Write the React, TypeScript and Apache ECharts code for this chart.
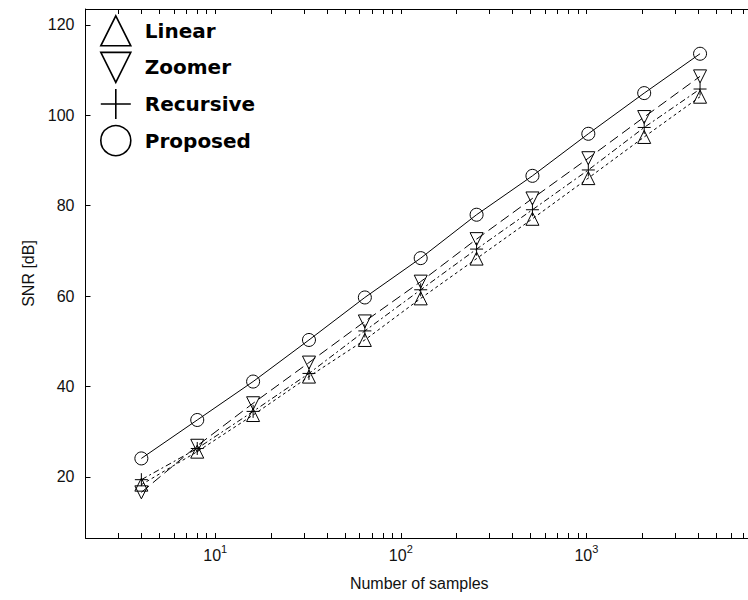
import React, { useEffect, useRef } from 'react';
import * as echarts from 'echarts';

const samples = [4, 8, 16, 32, 64, 128, 256, 512, 1024, 2048, 4096];
const linear = [18.3, 25.6, 33.7, 42.2, 50.3, 59.5, 68.3, 77.1, 86.1, 95.2, 104.1];
const zoomer = [16.6, 26.9, 36.3, 45.3, 54.4, 63.2, 72.6, 81.6, 90.5, 99.6, 108.6];
const recursive = [19.4, 26.3, 34.5, 42.9, 52.3, 61.4, 70.4, 79.1, 87.9, 97.3, 105.8];
const proposed = [24.1, 32.6, 41.1, 50.3, 59.7, 68.4, 78.0, 86.6, 95.9, 104.9, 113.6];

const yTicks = [20, 40, 60, 80, 100, 120];
const xMajor = [10, 100, 1000];
const xTicks = [2, 3, 4, 5, 6, 7, 8, 9, 10, 20, 30, 40, 50, 60, 70, 80, 90, 100, 200, 300, 400, 500, 600, 700, 800, 900, 1000, 2000, 3000, 4000, 5000, 6000, 7000];

const X_MIN = 2;
const X_MAX = 7900;
const Y_MIN = 6.5;
const Y_MAX = 123.5;

const DOWN = 'path://M0,0L2,0L1,2Z';
const PLUS = 'path://M1,0L1,2M0,1L2,1';

const FONT = 'Liberation Sans, Arial, Helvetica, sans-serif';

export default function App() {
  const ref = useRef<HTMLDivElement>(null);
  useEffect(() => {
    if (!ref.current) return;
    const chart = echarts.init(ref.current, undefined, { renderer: 'svg' });
    const hollow = { color: 'rgba(0,0,0,0)', borderColor: '#000', borderWidth: 1 };
    const mk = (name: string, vals: number[], symbol: string, dash: any) => ({
      name,
      type: 'line',
      data: samples.map((s, i) => [s, vals[i]]),
      symbol,
      symbolSize: 13,
      lineStyle: { color: '#000', width: 1, type: dash },
      itemStyle: hollow,
      emphasis: { disabled: true },
      silent: true,
      z: 3,
    });
    const xCommon = (pos: 'bottom' | 'top', labels: boolean) => ({
      type: 'log',
      logBase: 10,
      min: X_MIN,
      max: X_MAX,
      position: pos,
      axisLine: { show: true, lineStyle: { color: '#000', width: 1 } },
      axisTick: { show: true, inside: true, length: 5, customValues: xTicks, lineStyle: { color: '#000' } },
      minorTick: { show: false },
      splitLine: { show: false },
      axisLabel: labels
        ? {
            show: true,
            customValues: xMajor,
            margin: 3,
            formatter: (v: number) => `{b|10}{s|${Math.round(Math.log10(v))}}`,
            rich: {
              b: { fontSize: 16, fontFamily: FONT, color: '#111', verticalAlign: 'bottom', lineHeight: 22 },
              s: { fontSize: 11, fontFamily: FONT, color: '#111', verticalAlign: 'bottom', lineHeight: 22, padding: [0, 0, 9, 0] },
            },
          }
        : { show: false },
      ...(labels
        ? {
            name: 'Number of samples',
            nameLocation: 'middle',
            nameGap: 37,
            nameTextStyle: { fontSize: 16, fontFamily: FONT, color: '#111' },
          }
        : {}),
    });
    const yCommon = (pos: 'left' | 'right', labels: boolean) => ({
      type: 'value',
      min: Y_MIN,
      max: Y_MAX,
      position: pos,
      axisLine: { show: true, lineStyle: { color: '#000', width: 1 } },
      axisTick: { show: true, inside: true, length: 5, customValues: yTicks, lineStyle: { color: '#000' } },
      splitLine: { show: false },
      axisLabel: labels
        ? { show: true, customValues: yTicks, margin: 11, fontSize: 16, fontFamily: FONT, color: '#111' }
        : { show: false },
      ...(labels
        ? {
            name: 'SNR [dB]',
            nameLocation: 'middle',
            nameGap: 46,
            nameTextStyle: { fontSize: 16, fontFamily: FONT, color: '#111' },
          }
        : {}),
    });
    chart.setOption({
      animation: false,
      backgroundColor: '#fff',
      grid: { left: 85.5, top: 9, right: -5, bottom: 62, containLabel: false, outerBoundsMode: 'none' },
      xAxis: [xCommon('bottom', true), xCommon('top', false)],
      yAxis: [yCommon('left', true), yCommon('right', false)],
      legend: {
        orient: 'vertical',
        left: 95,
        top: 10,
        itemWidth: 30,
        itemHeight: 30,
        itemGap: 5,
        selectedMode: false,
        data: [
          { name: 'Linear', icon: 'triangle' },
          { name: 'Zoomer', icon: DOWN },
          { name: 'Recursive', icon: PLUS },
          { name: 'Proposed', icon: 'circle' },
        ],
        itemStyle: { color: 'rgba(0,0,0,0)', borderColor: '#000', borderWidth: 1.6 },
        textStyle: { fontFamily: 'DejaVu Sans', fontWeight: 'bold', fontSize: 20, color: '#000', padding: [0, 0, 0, 9], lineHeight: 24 },
      },
      series: [
        mk('Linear', linear, 'triangle', [3, 3]),
        mk('Zoomer', zoomer, DOWN, [10, 5]),
        mk('Recursive', recursive, PLUS, [6, 3, 2, 3]),
        mk('Proposed', proposed, 'circle', 'solid'),
      ],
    });
    return () => chart.dispose();
  }, []);
  return (
    <div
      ref={ref}
      style={{ position: 'fixed', left: 0, top: 0, width: 748, height: 600, background: '#fff' }}
    />
  );
}
